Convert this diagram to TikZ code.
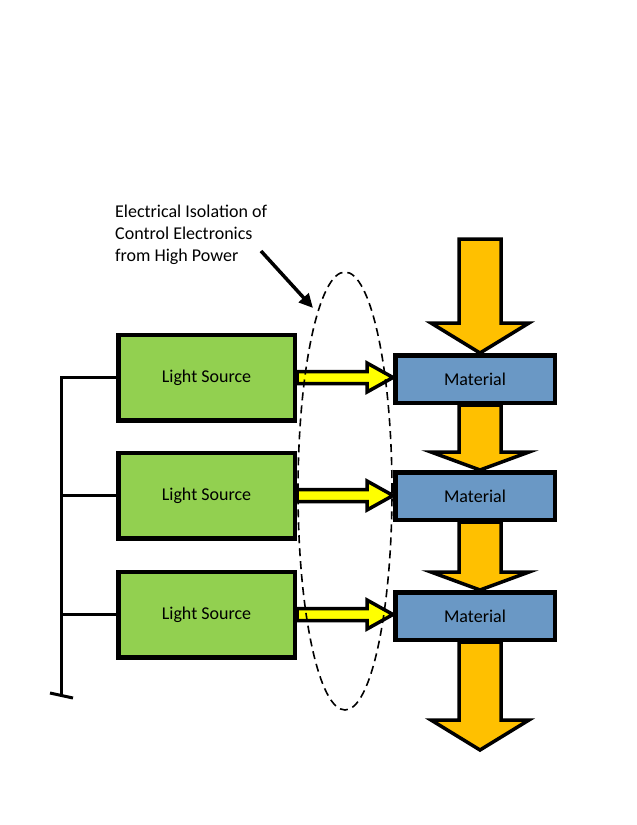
\documentclass[tikz,border=0pt]{standalone}
\usepackage{fontspec}
\setmainfont{Carlito}
\usetikzlibrary{positioning,arrows.meta,shapes.geometric,calc,backgrounds}

\definecolor{lsgreen}{HTML}{92D050}
\definecolor{matblue}{HTML}{6A98C5}
\definecolor{beamorange}{HTML}{FFC000}
\definecolor{lightyellow}{HTML}{FFFF00}

\begin{document}
\begin{tikzpicture}[x=1pt, y=-1pt, on grid, node distance=118pt,
    font=\fontsize{18}{22}\selectfont,
    source/.style={draw, line width=4.5pt, fill=lsgreen, minimum width=176.5pt, minimum height=85.5pt},
    material/.style={draw, line width=4.5pt, fill=matblue, minimum width=159.5pt, minimum height=47.5pt},
    wire/.style={line width=3pt},
    beam/.style={draw, line width=3.5pt, fill=beamorange},
    light/.style={draw, line width=3.5pt, fill=lightyellow},
    isolation/.style={draw, line width=1.6pt, dash pattern=on 8pt off 5pt, ellipse},
  ]

    \useasboundingbox (0,0) rectangle (637,825);

    \node[source] (ls1) at (206.5,377.5) {Light Source};
    \node[source] (ls2) [below=of ls1] {Light Source};
    \node[source] (ls3) [below=119pt of ls2] {Light Source};

    \node[material, text depth=-3pt] (mat1) [right=268.5pt of ls1, yshift=-1.5pt] {Material};
    \node[material, text depth=-3pt] (mat2) [below=117pt of mat1] {Material};
    \node[material, text depth=-3pt] (mat3) [below=120pt of mat2] {Material};

    \node[isolation, minimum width=94pt, minimum height=438pt] (iso) at (345,491) {};

    \node[anchor=north west, inner sep=0pt, align=left] (note) at (115,205)
        {Electrical Isolation of\\Control Electronics\\from High Power};

    \coordinate (ptail) at (261,251);
    \coordinate (ptip) at (313,308);
    \draw[line width=3.5pt, -{Triangle[length=14pt, width=13pt]}] (ptail) -- (ptip);

    % bus to the sources
    \coordinate (busend) at (61,695);
    \draw[wire] (ls1.west) -| (busend);
    \draw[wire] (ls2.west) -- (ls2.west -| busend);
    \draw[wire] (ls3.west) -- (ls3.west -| busend);
    \draw[wire] (50,693) .. controls (busend) .. (73,698);

    \coordinate (beamtop) at (480,239);
    \coordinate (beamend) at (480,750);

    \begin{scope}[on background layer]
    \foreach \a/\b/\h in {beamtop/mat1.north -| beamtop/30,
                          mat1.south -| beamtop/mat2.north -| beamtop/18,
                          mat2.south -| beamtop/mat3.north -| beamtop/18,
                          mat3.south -| beamtop/beamend/30}
        \draw[beam] (\a) ++(-21,0) -- ($(\b)+(-21,-\h)$) -- ($(\b)+(-49,-\h)$) -- (\b)
            -- ($(\b)+(49,-\h)$) -- ($(\b)+(21,-\h)$) -- ($(\a)+(21,0)$) -- cycle;

    \foreach \i in {1,2,3}
        \draw[light] ($(ls\i.east)+(0,-6)$) -- ($(ls\i.east -| mat\i.west)+(-26,-6)$) -- ++(0,-8.5)
            -- (ls\i.east -| mat\i.west) -- ++(-26,14.5) -- ++(0,-8.5) -- ($(ls\i.east)+(0,6)$) -- cycle;
    \end{scope}

\end{tikzpicture}
\end{document}
